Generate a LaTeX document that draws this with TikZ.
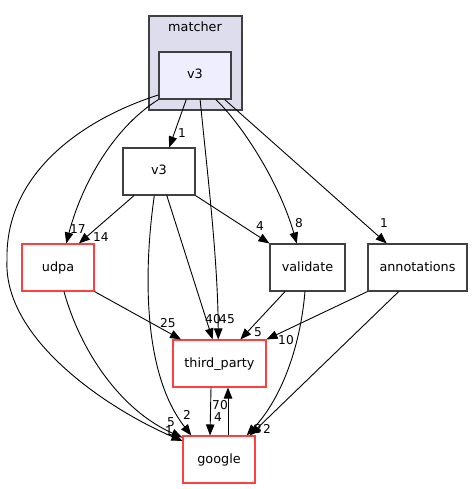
\documentclass[tikz,border=0pt]{standalone}
\usepackage{fontspec}
\setmainfont{DejaVu Sans}
\usetikzlibrary{arrows.meta}
\definecolor{boxgrey}{RGB}{64,64,64}
\definecolor{boxred}{RGB}{255,64,64}
\definecolor{clusterfill}{RGB}{221,221,238}
\definecolor{dirfill}{RGB}{238,238,255}

\begin{document}
\begin{tikzpicture}[x=1pt,y=-1pt,line width=0.9pt,
	>={Triangle[length=11pt,width=8.5pt]},
	dir/.style={draw=boxgrey, line width=1.1pt, minimum height=47pt, inner sep=0pt, text height=9pt, text depth=2pt, font=\fontsize{12.8}{15}\selectfont},
	reddir/.style={dir, draw=boxred},
	num/.style={inner sep=0pt, font=\fontsize{12.2}{14}\selectfont}]
	%\draw[help lines, thick] (0,0) grid[step=10] (473,489);
	\useasboundingbox (0,0) rectangle (473,489);
	\draw[draw=boxgrey, fill=clusterfill, line width=1.1pt] (149,16) rectangle (242,110);
	\node[font=\fontsize{12.8}{15}\selectfont] (matcher) at (195,27) {matcher};
	\node[dir, fill=dirfill, minimum width=72pt] (mvthree) at (195,75.5) {v3};
	\node[dir, minimum width=72pt] (vthree) at (159,171.5) {v3};
	\node[reddir, minimum width=72pt] (udpa) at (58,267.5) {udpa};
	\node[dir, minimum width=75pt] (validate) at (307.5,267.5) {validate};
	\node[dir, minimum width=99pt] (annot) at (417.5,267.5) {annotations};
	\node[reddir, minimum width=93pt] (third) at (219.5,363.5) {third\_party};
	\node[reddir, minimum width=72pt] (google) at (219,459.5) {google};

	\draw[->] (mvthree.-110) -- (vthree.67) node[num] at (182,133) {1};
	\draw[->] (mvthree.south west) .. controls (110,130) and (80,190) .. (udpa.71) node[num] at (78,229) {17};
	\draw[->] (mvthree.-152) .. controls (80,120) and (5,175) .. (7,260) .. controls (3,340) and (110,410) .. (google.153) node[num] at (169,431) {1};
	\draw[->] (mvthree.-78) .. controls (207,170) and (218,260) .. (third.93) node[num] at (227,319) {45};
	\draw[->] (mvthree.-49) .. controls (245,128) and (280,185) .. (validate.114) node[num] at (299,223) {8};
	\draw[->] (mvthree.-39) -- (annot.142) node[num] at (384,223) {1};
	\draw[->] (vthree.-136) -- (udpa.49) node[num] at (101,237) {14};
	\draw[->] (vthree.-101) .. controls (145,260) and (140,370) .. (google.139) node[num] at (187,415) {2};
	\draw[->] (vthree.-72) -- (third.106) node[num] at (213,319) {40};
	\draw[->] (vthree.south east) -- (validate.north west) node[num] at (260,226) {4};
	\draw[->] (udpa.south east) -- (third.148) node[num] at (168,323) {25};
	\draw[->] (udpa.-76) .. controls (80,350) and (120,410) .. (google.149) node[num] at (171,422) {5};
	\draw[->] (validate.-133) -- (third.49) node[num] at (258,332) {5};
	\draw[->] (validate.-96) .. controls (300,350) and (280,400) .. (google.41) node[num] at (258,429) {3};
	\draw[->] (annot.south west) -- (third.north east) node[num] at (286,340) {10};
	\draw[->] (annot.-128) -- (google.38) node[num] at (267,429) {2};
	\draw[->] ([xshift=-8.5pt]third.south) -- ([xshift=-9pt]google.north) node[num] at (218,417) {4};
	\draw[->] ([xshift=9pt]google.north) -- ([xshift=8.5pt]third.south) node[num] at (220,405) {70};
\end{tikzpicture}
\end{document}
